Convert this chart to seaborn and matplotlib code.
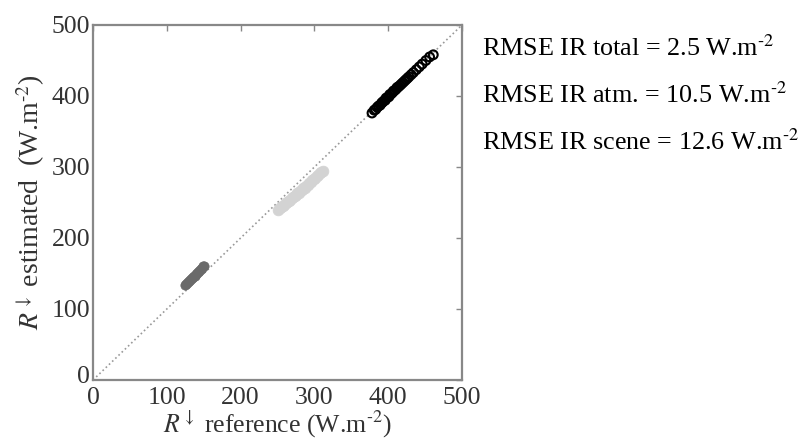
import matplotlib
matplotlib.use("Agg")
import matplotlib.pyplot as plt
import matplotlib.transforms as mtransforms
import seaborn as sns
import pandas as pd

# Data
total_ref = [378, 381, 383, 385, 387, 389, 391, 392, 394, 396, 397, 399, 401, 402, 404, 406,
             407, 409, 411, 412, 414, 416, 418, 420, 422, 424, 426, 428, 431, 434, 438, 442,
             446, 451, 456, 461]
total_est = [376, 380, 381, 384, 386, 387, 390, 391, 393, 394, 397, 398, 399, 402, 403, 405,
             407, 408, 410, 412, 413, 415, 417, 419, 421, 423, 425, 427, 430, 433, 437, 441,
             445, 450, 455, 458]
atm_ref = [251, 253, 255, 257, 259, 261, 263, 265, 267, 269, 271, 273, 275, 277, 279, 281,
           283, 285, 287, 289, 291, 293, 295, 297, 299, 301, 303, 305, 307, 309, 311]
atm_est = [240, 242, 244, 245, 247, 249, 250, 252, 254, 256, 258, 259, 261, 263, 264, 266,
           268, 270, 271, 273, 275, 277, 279, 281, 283, 285, 287, 289, 291, 293, 295]
scene_ref = [125, 126, 128, 129, 130, 132, 133, 134, 136, 137, 138, 140, 141, 142, 144, 145,
             146, 148, 149, 150]
scene_est = [134, 135, 137, 138, 139, 141, 142, 143, 145, 146, 147, 149, 150, 152, 154, 155,
             157, 158, 160, 161]
ticks = [0, 100, 200, 300, 400, 500]
stats = [r"RMSE IR total = 2.5 W.m$^{\text{-}2}$",
         r"RMSE IR atm. = 10.5 W.m$^{\text{-}2}$",
         r"RMSE IR scene = 12.6 W.m$^{\text{-}2}$"]

sns.set_style("white")
plt.rcParams["font.family"] = ["Liberation Serif", "DejaVu Serif"]
plt.rcParams["mathtext.fontset"] = "stix"

fig = plt.figure(figsize=(8.04, 4.46), dpi=100)
ax = fig.add_axes([0.1157, 0.148, 0.459, 0.796])

txtc = "#333333"
ax.plot([0, 500], [0, 500], linestyle=":", color="#999999", lw=1.2, zorder=1)

sns.scatterplot(x=atm_ref, y=atm_est, ax=ax, color="#d3d3d3", edgecolor="#d3d3d3",
                s=60, linewidth=0.5, zorder=2)
sns.scatterplot(x=scene_ref, y=scene_est, ax=ax, color="#6a6a6a", edgecolor="#6a6a6a",
                s=45, linewidth=0.5, zorder=2)
sns.scatterplot(x=total_ref, y=total_est, ax=ax, facecolor="none", edgecolor="black",
                s=40, linewidth=1.5, zorder=3)

ax.set_xlim(0, 500)
ax.set_ylim(0, 500)
ax.set_xticks(ticks)
ax.set_yticks(ticks)
ax.set_xticklabels([str(t) for t in ticks])
ax.set_yticklabels([str(t) for t in ticks])
ax.tick_params(direction="in", length=4, width=1, colors="#888888", labelcolor=txtc,
               labelsize=18.5, top=True, right=True)
ax.tick_params(axis="x", pad=5)
ax.tick_params(axis="y", pad=2)
for s in ax.spines.values():
    s.set_color("#888888")
    s.set_linewidth(1.6)
    s.set_visible(True)

# nudge the y-axis "0" label up slightly so it does not collide with the x-axis "0"
ylab0 = ax.get_yticklabels()[0]
ylab0.set_transform(ylab0.get_transform() +
                    mtransforms.ScaledTranslation(0, 4 / 72, fig.dpi_scale_trans))

ax.set_xlabel(r"$R^{\downarrow}$ reference (W.m$^{\text{-}2}$)", fontsize=18.5, color=txtc, labelpad=0)
ax.set_ylabel(r"$R^{\downarrow}$ estimated  (W.m$^{\text{-}2}$)", fontsize=20, color=txtc, labelpad=3)

for i, s in enumerate(stats):
    fig.text(0.6, 0.893 - i * 0.106, s, fontsize=18.8, color="black", va="center", ha="left")

fig.savefig("out.png", dpi=100)
